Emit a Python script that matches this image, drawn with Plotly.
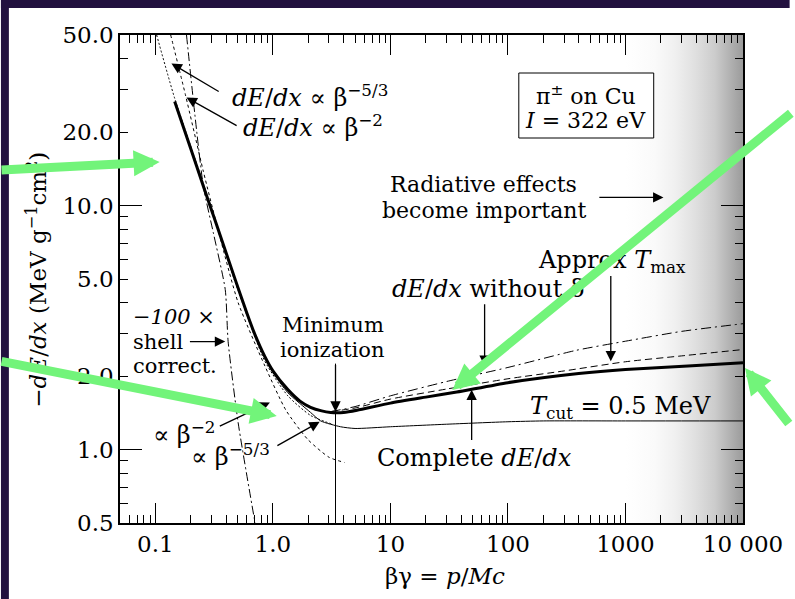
import math
import plotly.graph_objects as go

# ---------------- data ----------------
# complete dE/dx (thick solid)
complete_bg = [0.146, 0.2, 0.256, 0.33, 0.478, 0.6, 0.705, 0.855, 1.0, 1.34, 1.7, 2.09, 2.6, 3.1, 4.0, 5.2, 10, 20, 36.7, 100, 400, 1000, 3400, 10000]
complete_val = [26.7, 17.1, 12.0, 8.4, 4.97, 3.63, 2.95, 2.4, 2.1, 1.76, 1.58, 1.49, 1.44, 1.42, 1.42, 1.45, 1.55, 1.64, 1.72, 1.88, 2.05, 2.13, 2.2, 2.27]

# restricted loss, T_cut = 0.5 MeV (thin solid)
tcut_bg = [0.855, 1.0, 1.34, 2.09, 2.55, 3.76, 5, 10, 30, 100, 200, 1000, 10000]
tcut_val = [2.38, 2.07, 1.71, 1.42, 1.31, 1.24, 1.22, 1.24, 1.27, 1.30, 1.31, 1.31, 1.31]

# approx T_max (dashed)
tmax_bg = [3.1, 5, 10, 30, 100, 300, 1000, 3000, 10000]
tmax_val = [1.43, 1.48, 1.61, 1.77, 1.95, 2.1, 2.29, 2.42, 2.57]

# dE/dx without density effect (dash-dot)
nodelta_bg = [3.1, 5, 10, 30, 100, 380, 1000, 3000, 10000]
nodelta_val = [1.43, 1.50, 1.66, 1.90, 2.17, 2.55, 2.78, 3.05, 3.28]

# low-energy power laws
beta2_bg = [0.135, 0.18, 0.256, 0.35, 0.506, 0.855, 1.29, 1.98, 3.0, 4.06]
beta2_val = [50, 28.5, 13.8, 7.6, 4.0, 2.2, 1.45, 1.1, 0.93, 0.885]
beta53_bg = [0.1025, 0.146, 0.256, 0.478, 0.855, 1.34, 2.09, 3.2]
beta53_val = [50, 27.5, 12.3, 4.85, 2.3, 1.66, 1.38, 1.27]

# -100 x shell correction (dash-dot)
shell_bg = [0.184, 0.256, 0.311, 0.393, 0.416, 0.506, 0.705]
shell_val = [50, 12.0, 7.75, 4.53, 2.77, 1.29, 0.5]

# axes
X_RANGE = [0.05, 10000]
Y_RANGE = [0.5, 50]
x_major = [0.1, 1, 10, 100, 1000, 10000]
x_major_text = ["0.1", "1.0", "10", "100", "1000", "10 000"]
x_minor = [m * d for d in [0.01, 0.1, 1, 10, 100, 1000] for m in range(2, 10) if 0.05 < m * d < 10000]
y_labels = [0.5, 1, 2, 5, 10, 20, 50]
y_labels_text = ["0.5", "1.0", "2.0", "5.0", "10.0", "20.0", "50.0"]
y_minor = [0.6, 0.7, 0.8, 0.9, 3, 4, 6, 7, 8, 9, 30, 40]
y_decades = [1, 10]

# shaded "radiative" band and minimum ionization marker
rad_band = [1000, 10000]
min_ion_bg = 3.41
min_ion_top = 2.25

# ---------------- layout constants ----------------
FIG_W, FIG_H = 795, 599
ML, MR, MT, MB = 120, 47, 35, 76
PW = FIG_W - ML - MR
PH = FIG_H - MT - MB
FONT = "DejaVu Serif"
TXT = 24
GREEN = "#72F47A"
DARK = "#22113F"


def paper(px, py):
    return (px - ML) / PW, (FIG_H - MB - py) / PH


L = math.log10

fig = go.Figure()

# gradient band
fig.add_trace(go.Scatter(
    x=[rad_band[0], rad_band[1], rad_band[1], rad_band[0], rad_band[0]],
    y=[Y_RANGE[0], Y_RANGE[0], Y_RANGE[1], Y_RANGE[1], Y_RANGE[0]],
    mode="lines", line=dict(width=0), fill="toself",
    fillgradient=dict(type="horizontal", colorscale=[
        [0, "rgb(255,255,255)"], [0.25, "rgb(250,250,250)"], [0.42, "rgb(240,240,240)"],
        [0.59, "rgb(224,224,224)"], [0.76, "rgb(204,204,204)"], [1, "rgb(155,155,155)"]]),
    hoverinfo="skip", showlegend=False))


def curve(x, y, width, dash, yaxis="y"):
    fig.add_trace(go.Scatter(x=x, y=y, mode="lines", yaxis=yaxis,
                             line=dict(color="black", width=width, dash=dash, shape="spline", smoothing=0.6),
                             hoverinfo="skip", showlegend=False))


curve(beta2_bg, beta2_val, 1, "3px,3px")
curve(beta53_bg, beta53_val, 1, "2px,2px")
curve(tcut_bg, tcut_val, 1, "solid")
curve(tmax_bg, tmax_val, 1, "7px,4px")
curve(nodelta_bg, nodelta_val, 1, "10px,4px,2px,4px")
curve(complete_bg, complete_val, 3, "solid")
curve(shell_bg, shell_val, 1, "9px,3px,2px,3px", yaxis="y2")
# minimum ionization marker line
fig.add_trace(go.Scatter(x=[min_ion_bg, min_ion_bg], y=[min_ion_top, Y_RANGE[0]], mode="lines",
                         line=dict(color="black", width=1), hoverinfo="skip", showlegend=False))

ann = []


def text(s, bg, val, size=TXT, xanchor="center", **kw):
    ann.append(dict(text=s, x=L(bg), y=L(val), xref="x", yref="y", showarrow=False,
                    xanchor=xanchor, yanchor="middle",
                    font=dict(family=FONT, size=size, color="black"), **kw))


def arrow(tail, tip):
    ann.append(dict(text="", x=L(tip[0]), y=L(tip[1]), ax=L(tail[0]), ay=L(tail[1]),
                    xref="x", yref="y", axref="x", ayref="y", showarrow=True,
                    arrowhead=2, arrowsize=1.6, arrowwidth=1.3, arrowcolor="black", standoff=0))


# axis titles
ytx, yty = paper(36, 280)
ann.append(dict(text="−<i>dE</i>/<i>dx</i> (MeV g<sup>−1</sup>cm<sup>2</sup>)", x=ytx, y=yty,
                xref="paper", yref="paper", xanchor="center", yanchor="middle",
                showarrow=False, textangle=-90,
                font=dict(family=FONT, size=23, color="black")))
xtx, xty = paper(448, 576)
ann.append(dict(text="βγ = <i>p</i>/<i>Mc</i>", x=xtx, y=xty, xref="paper", yref="paper",
                xanchor="center", yanchor="middle",
                showarrow=False, font=dict(family=FONT, size=23, color="black")))

text("<i>dE</i>/<i>dx</i> ∝ β<sup>−5/3</sup>", 2.05, 28.2)
arrow((0.356, 29.1), (0.137, 38.2))
text("<i>dE</i>/<i>dx</i> ∝ β<sup>−2</sup>", 2.18, 21.1)
arrow((0.506, 21.1), (0.184, 27.7))

# info box
text("π<sup>±</sup> on Cu", 461, 28.5, size=22)
text("<i>I</i> = 322 eV", 461, 22.3, size=22)

text("Radiative effects", 62.1, 12.19, size=22)
text("become important", 62.1, 9.54, size=22)
arrow((582, 10.8), (2105, 10.8))

text("Approx <i>T</i><sub>max</sub>", 765, 5.9)
arrow((750, 5.22), (750, 2.3))

text("<i>dE</i>/<i>dx</i> without δ", 67, 4.53)
arrow((63.3, 4.0), (63.3, 2.2))

text("Minimum", 3.22, 3.24, size=21)
text("ionization", 3.22, 2.57, size=21)
arrow((min_ion_bg, min_ion_top), (min_ion_bg, 1.43))

text("<i>T</i><sub>cut</sub> = 0.5 MeV", 912, 1.49)

text("Complete <i>dE</i>/<i>dx</i>", 52, 0.927)
arrow((49.1, 1.08), (49.1, 1.76))

text("<i>−100</i> ×", 0.0618, 3.48, xanchor="left", size=21)
text("shell", 0.0618, 2.77, xanchor="left", size=21)
text("correct.", 0.0618, 2.20, xanchor="left", size=21)
arrow((0.191, 2.77), (0.393, 2.77))

text("∝ β<sup>−2</sup>", 0.177, 1.17)
arrow((0.343, 1.24), (0.943, 1.56))
text("∝ β<sup>−5/3</sup>", 0.433, 0.954)
arrow((1.06, 1.03), (2.50, 1.30))

# green overlay arrows (pixel geometry of the slide overlay)
green_arrows = [((0, 170), (160, 162)), ((0, 361), (278, 416)),
                ((795, 112), (455, 390)), ((795, 425), (750, 368))]
for (tx, ty), (hx, hy) in green_arrows:
    px_, py_ = paper(hx, hy)
    ann.append(dict(text="", x=px_, y=py_, xref="paper", yref="paper", ax=tx - hx, ay=ty - hy,
                    showarrow=True, arrowhead=2, arrowsize=0.58, arrowwidth=9,
                    arrowcolor=GREEN, standoff=0))

shapes = []
# frame of the info box (pixel geometry)
bx0, by0 = paper(522, 138)
bx1, by1 = paper(658, 73)
shapes.append(dict(type="rect", xref="paper", yref="paper", x0=bx0, y0=by0, x1=bx1, y1=by1,
                   fillcolor="white", line=dict(color="black", width=1), layer="above"))
# dark slide border strips
x0, y0 = paper(0, 0); x1, y1 = paper(FIG_W, 8)
shapes.append(dict(type="rect", xref="paper", yref="paper", x0=x0, y0=y0, x1=x1, y1=y1,
                   fillcolor=DARK, line=dict(width=0), layer="below"))
x0, y0 = paper(0, 0); x1, y1 = paper(8, FIG_H)
shapes.append(dict(type="rect", xref="paper", yref="paper", x0=x0, y0=y0, x1=x1, y1=y1,
                   fillcolor=DARK, line=dict(width=0), layer="below"))

axis_common = dict(type="log", showgrid=False, zeroline=False, showline=True, linecolor="black",
                   linewidth=1.5, mirror="ticks", ticks="inside", tickcolor="black", tickwidth=1)

fig.update_layout(
    width=FIG_W, height=FIG_H, margin=dict(l=ML, r=MR, t=MT, b=MB),
    paper_bgcolor="white", plot_bgcolor="white", showlegend=False,
    font=dict(family=FONT),
    xaxis=dict(**axis_common, range=[L(X_RANGE[0]), L(X_RANGE[1])], tickvals=x_major,
               ticktext=x_major_text, ticklen=20,
               tickfont=dict(family=FONT, size=23, color="black"),
               minor=dict(tickvals=x_minor, ticklen=8, ticks="inside", tickcolor="black", tickwidth=1, showgrid=False)),
    yaxis=dict(**axis_common, range=[L(Y_RANGE[0]), L(Y_RANGE[1])], tickvals=y_labels,
               ticktext=y_labels_text, ticklen=8,
               tickfont=dict(family=FONT, size=23, color="black"),
               minor=dict(tickvals=y_minor, ticklen=8, ticks="inside", tickcolor="black", tickwidth=1, showgrid=False)),
    yaxis2=dict(**axis_common, range=[L(Y_RANGE[0]), L(Y_RANGE[1])], overlaying="y", side="left",
                anchor="x", tickvals=y_decades, ticklen=22, showticklabels=False),
    annotations=ann, shapes=shapes,
)

fig.write_html("out.html")
